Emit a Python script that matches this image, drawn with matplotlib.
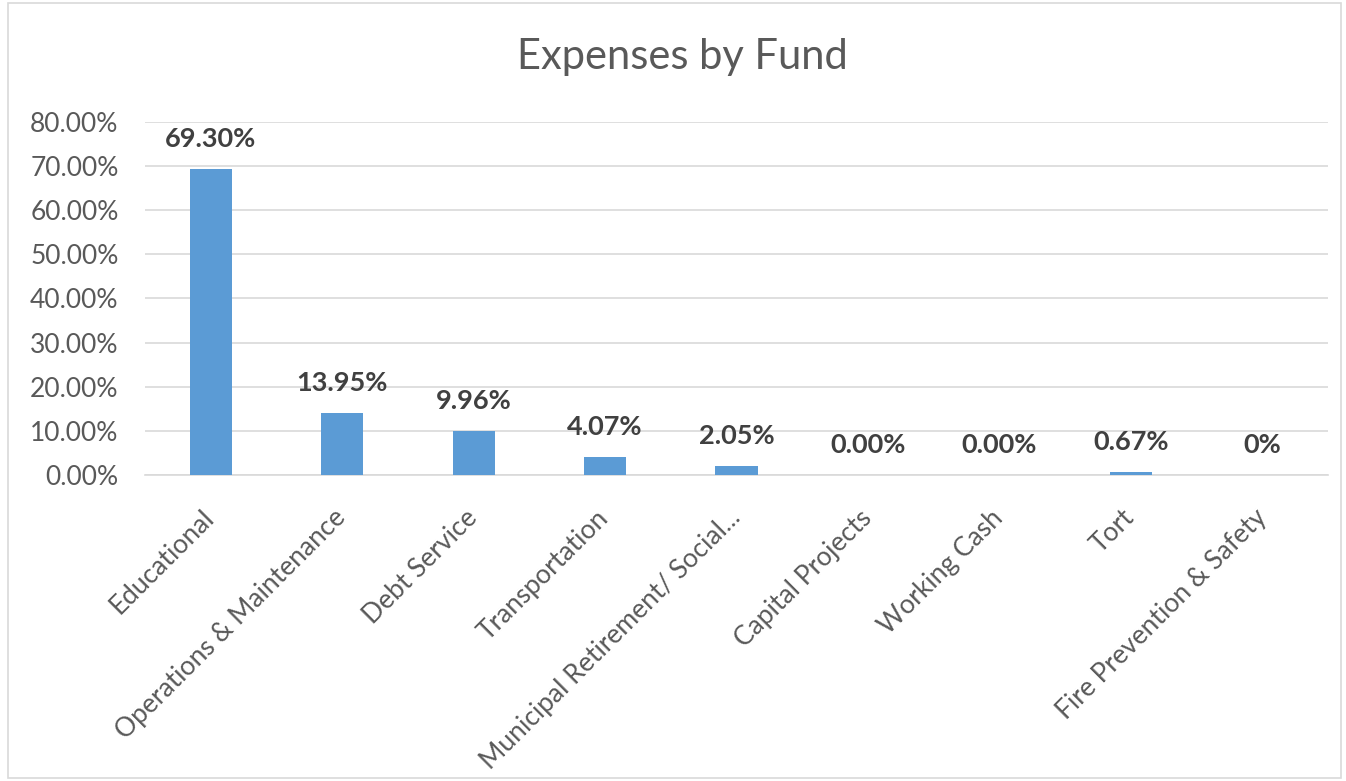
import matplotlib
matplotlib.use("Agg")
import matplotlib.pyplot as plt
from matplotlib.ticker import FuncFormatter, MultipleLocator
from matplotlib.patches import Rectangle

categories = ["Educational", "Operations & Maintenance", "Debt Service", "Transportation",
              "Municipal Retirement/ Social...", "Capital Projects", "Working Cash", "Tort",
              "Fire Prevention & Safety"]
values = [0.6930, 0.1395, 0.0996, 0.0407, 0.0205, 0.0, 0.0, 0.0067, 0.0]
value_labels = ["69.30%", "13.95%", "9.96%", "4.07%", "2.05%", "0.00%", "0.00%", "0.67%", "0%"]
title = "Expenses by Fund"

plt.rcParams["font.family"] = ["Lato", "DejaVu Sans"]

fig = plt.figure(figsize=(13.46, 7.81), dpi=100)
ax = fig.add_axes([0.1077, 0.3918, 0.8790, 0.4520])

x = list(range(len(categories)))
ax.bar(x, values, width=0.32, color="#5B9BD5", zorder=3)

ax.set_xlim(-0.5, len(categories) - 0.5)
ax.set_ylim(0, 0.8)
ax.yaxis.set_major_locator(MultipleLocator(0.1))
ax.yaxis.set_major_formatter(FuncFormatter(lambda v, p: f"{v*100:.2f}%"))
ax.grid(axis="y", color="#D9D9D9", linewidth=1.2, zorder=0)
for s in ["top", "right", "left"]:
    ax.spines[s].set_visible(False)
ax.spines["bottom"].set_color("#D9D9D9")
ax.spines["bottom"].set_linewidth(1.2)
ax.tick_params(axis="both", length=0, colors="#595959", labelsize=19)
ax.tick_params(axis="y", pad=19)
ax.set_xticks(x)
ax.set_xticklabels(categories, rotation=45, ha="right", va="center", rotation_mode="anchor")
ax.tick_params(axis="x", pad=28)

for xi, v, lab in zip(x, values, value_labels):
    ax.annotate(lab, (xi, v), xytext=(0, 13), textcoords="offset points",
                ha="center", va="bottom", fontsize=19.5, fontweight="bold", color="#404040")

fig.text(0.507, 0.927, title, ha="center", va="center", fontsize=30, color="#595959")

fig.patches.append(Rectangle((0.006, 0.004), 0.990, 0.992, transform=fig.transFigure,
                             fill=False, edgecolor="#D9D9D9", linewidth=1.2))

fig.savefig("out.png", dpi=100, facecolor="white")
